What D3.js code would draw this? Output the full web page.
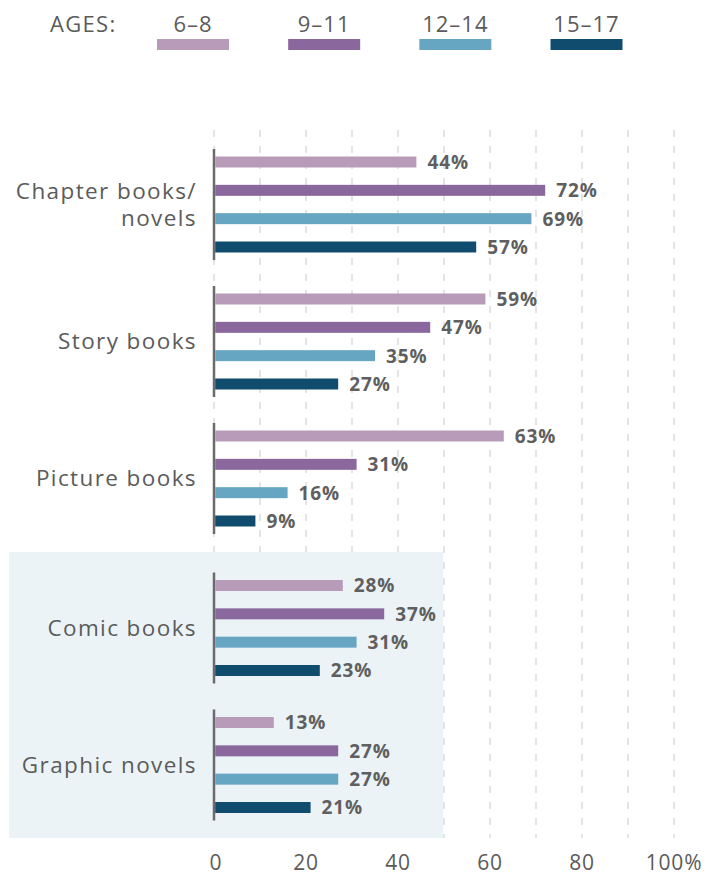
<!DOCTYPE html>
<html><head><meta charset="utf-8">
<script src="https://cdn.jsdelivr.net/npm/d3@7"></script>
<style>
html,body{margin:0;padding:0;background:#fff;}
svg{display:block;font-family:"Open Sans","Lato",sans-serif;}
</style></head>
<body><svg id="chart" width="707" height="876"></svg>
<script>
const categories = ["Chapter books/\nnovels", "Story books", "Picture books", "Comic books", "Graphic novels"];
const series = ["6–8", "9–11", "12–14", "15–17"];
const colors = ["#B89BB8", "#8A689E", "#67A6C3", "#0F4C6E"];
const values = [
  [44, 72, 69, 57],
  [59, 47, 35, 27],
  [63, 31, 16, 9],
  [28, 37, 31, 23],
  [13, 27, 27, 21]
];
const shaded = ["Comic books", "Graphic novels"];
const xTicks = [0, 20, 40, 60, 80, 100];
const gridTicks = [0, 10, 20, 30, 40, 50, 60, 70, 80, 90, 100];

const svg = d3.select("#chart");
const textColor = "#5b5b5b";

const x = d3.scaleLinear().domain([0, 100]).range([214, 674]);
const yc = d3.scalePoint().domain(categories).range([204.5, 752.5]);
const shadeOffset = 12.5;
const groupCenter = c => yc(c) + (shaded.includes(c) ? shadeOffset : 0);
const y1 = d3.scaleBand().domain(series).range([-55.5, 55.5]).paddingInner(0.612).paddingOuter(0.265);

// gridlines
svg.append("g").selectAll("line").data(gridTicks).join("line")
  .attr("x1", d => x(d)).attr("x2", d => x(d))
  .attr("y1", 130).attr("y2", 838)
  .attr("stroke", "#dcdcdc").attr("stroke-width", 1.5)
  .attr("stroke-dasharray", "7,9");

// shaded region
svg.append("rect")
  .attr("x", 9).attr("width", x(50) - 1 - 9)
  .attr("y", 552).attr("height", 838 - 552)
  .attr("fill", "#EBF3F7");

// groups
const g = svg.append("g").selectAll("g").data(categories).join("g")
  .attr("transform", c => `translate(0,${groupCenter(c)})`);

g.append("line")
  .attr("x1", x(0)).attr("x2", x(0))
  .attr("y1", y1.range()[0]).attr("y2", y1.range()[1])
  .attr("stroke", "#6b6b6b").attr("stroke-width", 2.5);

g.selectAll("rect.bar").data((c, i) => series.map((s, j) => ({s, j, v: values[i][j]})))
  .join("rect").attr("class", "bar")
  .attr("x", x(0) + 1.2)
  .attr("y", d => y1(d.s))
  .attr("height", y1.bandwidth())
  .attr("width", d => x(d.v) - x(0) - 1.2)
  .attr("fill", d => colors[d.j]);

g.selectAll("text.val").data((c, i) => series.map((s, j) => ({s, j, v: values[i][j]})))
  .join("text").attr("class", "val")
  .attr("x", d => x(d.v) + 11)
  .attr("y", d => y1(d.s) + y1.bandwidth() / 2)
  .attr("dy", "0.36em")
  .attr("font-size", 19).attr("font-weight", 700)
  .attr("letter-spacing", 0.9)
  .attr("fill", "#5f5f5f")
  .text(d => d.v + "%");

// category labels
g.each(function(c) {
  const lines = c.split("\n");
  const lh = 27;
  lines.forEach((ln, k) => {
    d3.select(this).append("text")
      .attr("x", 197).attr("text-anchor", "end")
      .attr("font-size", 22.5).attr("letter-spacing", 1.4).attr("fill", textColor)
      .attr("y", (k - (lines.length - 1) / 2) * lh)
      .attr("dy", "0.35em").text(ln);
  });
});

// x axis labels
svg.append("g").selectAll("text").data(xTicks).join("text")
  .attr("x", d => x(d) + (d === 0 ? 2 : 0))
  .attr("y", 870)
  .attr("text-anchor", "middle")
  .attr("font-size", 21).attr("letter-spacing", 0.8).attr("fill", textColor)
  .text(d => d === 100 ? "100%" : d);

// legend
svg.append("text").attr("x", 50).attr("y", 32)
  .attr("font-size", 22).attr("letter-spacing", 1.3).attr("fill", textColor).text("AGES:");
const legendX = d3.scalePoint().domain(series).range([193, 586.5]);
const lg = svg.append("g").selectAll("g").data(series).join("g")
  .attr("transform", d => `translate(${legendX(d)},0)`);
lg.append("text").attr("x", 0).attr("y", 32).attr("text-anchor", "middle")
  .attr("font-size", 22).attr("letter-spacing", 1).attr("fill", textColor).text(d => d);
lg.append("rect").attr("x", -36).attr("width", 72).attr("y", 39).attr("height", 11)
  .attr("fill", (d, i) => colors[i]);
</script></body></html>
